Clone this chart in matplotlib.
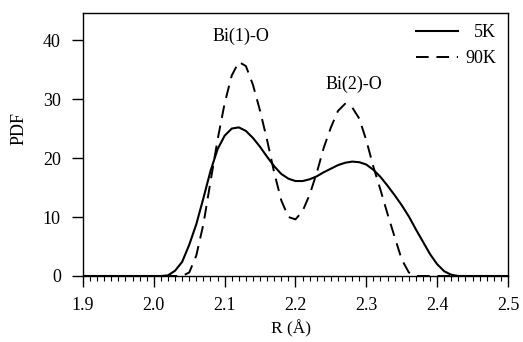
import matplotlib
matplotlib.use("Agg")
import matplotlib.pyplot as plt
import numpy as np

plt.rcParams['font.family'] = ['Liberation Serif', 'DejaVu Serif']

# R grid (Angstrom), step 0.01
r = np.round(np.arange(1.90, 2.501, 0.01), 2)

# PDF values, 1.90 .. 2.50
pdf_5k = [0, 0, 0, 0, 0, 0, 0, 0, 0, 0,              # 1.90-1.99
          0, 0, 0.1, 0.9, 2.4, 5.3, 8.8, 13.2, 17.8, 21.5,  # 2.00-2.09
          23.8, 25.0, 25.2, 24.6, 23.4, 21.9, 20.2, 18.6, 17.3, 16.5,  # 2.10-2.19
          16.1, 16.1, 16.4, 16.9, 17.6, 18.2, 18.8, 19.2, 19.4, 19.3,  # 2.20-2.29
          18.9, 18.0, 16.8, 15.3, 13.7, 12.0, 10.1, 7.9, 5.8, 3.7,     # 2.30-2.39
          2.0, 0.8, 0.2, 0, 0, 0, 0, 0, 0, 0,                          # 2.40-2.49
          0]                                                          # 2.50
pdf_90k = [0, 0, 0, 0, 0, 0, 0, 0, 0, 0,
           0, 0, 0, 0, 0, 0.6, 3.5, 8.8, 16.0, 23.1,
           29.3, 34.0, 36.3, 35.6, 32.4, 28.0, 23.0, 17.5, 12.8, 10.0,
           9.6, 11.0, 13.8, 17.5, 21.8, 25.2, 28.0, 29.2, 28.6, 26.7,
           23.0, 18.5, 14.6, 10.5, 6.6, 2.8, 0.6, 0, 0, 0,
           0, 0, 0, 0, 0, 0, 0, 0, 0, 0,
           0]

labels = ['5K', '90K']
peak_names = ['Bi(1)-O', 'Bi(2)-O']
peak_pos = [(2.123, 40.7), (2.283, 32.5)]

fig = plt.figure(figsize=(5.23, 3.42), dpi=100)
ax = fig.add_axes([0.1587, 0.193, 0.8126, 0.769])

ax.plot(r, pdf_5k, color='black', lw=1.5, label=labels[0])
ax.plot(r, pdf_90k, color='black', lw=1.4, ls=(0, (6.5, 4)), label=labels[1])

ax.set_xlim(1.9, 2.5)
ax.set_ylim(0, 44.6)
ax.set_xticks([1.9, 2.0, 2.1, 2.2, 2.3, 2.4, 2.5])
ax.set_xticklabels(['1.9', '2.0', '2.1', '2.2', '2.3', '2.4', '2.5'])
ax.set_xticks(np.arange(1.9, 2.5, 0.01), minor=True)
ax.set_yticks([0, 10, 20, 30, 40])
ax.tick_params(axis='both', which='major', direction='out', length=8, width=1,
               labelsize=13)
ax.tick_params(axis='x', which='major', pad=7)
ax.tick_params(axis='y', which='major', pad=8)
ax.tick_params(axis='x', which='minor', direction='out', length=3.5, width=0.8)
ax.tick_params(axis='y', which='minor', left=False)
for s in ax.spines.values():
    s.set_linewidth(1.0)

ax.text(-0.15, 0.56, 'PDF', transform=ax.transAxes, rotation=90,
        ha='center', va='center', fontsize=13)
ax.text(0.49, -0.232, 'R (Å)', transform=ax.transAxes,
        ha='center', va='bottom', fontsize=12.5)

for name, (px, py) in zip(peak_names, peak_pos):
    ax.text(px, py, name, ha='center', va='center', fontsize=13)

leg = ax.legend(loc='upper right', frameon=False, fontsize=13,
                handlelength=2.3, handletextpad=0.4, labelspacing=0.5,
                borderaxespad=0.2, bbox_to_anchor=(0.997, 1.0))
# right-align the legend labels
fig.canvas.draw()
rend = fig.canvas.get_renderer()
widths = [t.get_window_extent(rend).width for t in leg.get_texts()]
wmax = max(widths)
for t, wi in zip(leg.get_texts(), widths):
    t.set_position((wmax - wi, 0))

fig.savefig('out.png', dpi=100)
